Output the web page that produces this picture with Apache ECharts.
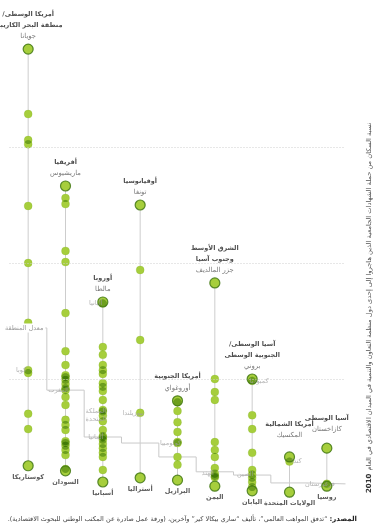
<!DOCTYPE html>
<html dir="rtl" lang="ar">
<head>
<meta charset="utf-8">
<script src="https://cdn.jsdelivr.net/npm/echarts@6/dist/echarts.min.js"></script>
<style>html,body{margin:0;padding:0;background:#fff}#c{width:379px;height:529px}</style>
</head>
<body>
<div id="c"></div>
<script>
// ---------- data ----------
const regionHeaders = [
  ["أمريكا الوسطى/", "منطقة البحر الكاريبي"],
  ["أفريقيا"],
  ["أوروبا"],
  ["أوقيانوسيا"],
  ["أمريكا الجنوبية"],
  ["الشرق الأوسط", "وجنوب آسيا"],
  ["آسيا الوسطى/", "الجنوبية الوسطى"],
  ["أمريكا الشمالية"],
  ["آسيا الوسطى"]
];
const topCountries = ["جويانا", "ماريشيوس", "مالطا", "تونغا", "أوروغواي", "جزر المالديف", "بروني", "المكسيك", "كازاخستان"];
const bottomCountries = ["كوستاريكا", "السودان", "أسبانيا", "أستراليا", "البرازيل", "اليمن", "اليابان", "الولايات المتحدة", "روسيا"];

// share (%) of tertiary-educated emigrants, each region sorted high -> low (first = top country, last = bottom country)
const caribbean   = [96.1, 82.1, 76.5, 75.6, 62.3, 50.0, 37.1, 26.3, 17.5, 14.2, 6.3];
const africa      = [66.6, 64.0, 62.7, 52.6, 50.2, 39.2, 31.0, 28.0, 25.8, 25.4, 24.8, 23.9, 23.0, 21.1, 19.4, 16.2, 15.1, 14.0, 11.6, 11.2, 10.6, 9.7, 8.6, 5.6, 5.2];
const europe      = [41.6, 31.9, 30.2, 28.0, 26.9, 26.1, 24.1, 23.3, 22.4, 20.5, 18.3, 18.0, 15.9, 14.0, 12.7, 11.9, 11.0, 10.1, 9.1, 8.2, 5.4, 2.8];
const oceania     = [62.5, 48.5, 33.4, 3.7];
const southAmerica= [20.3, 20.0, 18.1, 15.7, 13.6, 11.4, 8.2, 6.5, 3.2];
const middleEastSouthAsia = [45.7, 25.0, 22.2, 20.5, 11.4, 9.7, 8.2, 5.8, 4.1, 3.8, 1.9];
const eastAsia    = [25.0, 17.2, 14.2, 9.1, 5.4, 3.7, 2.8, 1.7, 0.9];
const northAmerica= [8.2, 0.6];
const centralAsia = [10.1, 1.9];
const regionValues = [caribbean, africa, europe, oceania, southAmerica, middleEastSouthAsia, eastAsia, northAmerica, centralAsia];

// individually labelled countries (grey side labels)
const notedNames  = ["كوبا", "المغرب", "ألبانيا", "المملكة\nالمتحدة", "ألمانيا", "نيوزيلندا", "كولومبيا", "الهند", "كمبوديا", "الصين", "كندا", "قرغيزستان"];
const notedRegion = [0, 1, 2, 2, 2, 3, 4, 5, 6, 6, 7, 8];
const notedValues = [26.9, 22.6, 41.3, 17.1, 12.4, 17.7, 11.2, 4.6, 24.6, 4.4, 7.2, 2.4];
const notedSide   = ["left", "left", "left", "left", "left", "left", "left", "left", "right", "left", "right", "left"];

const regionAverage = [36.0, 22.6, 12.5, 11.2, 8.2, 5.0, 4.3, 2.6, 2.4];
const averageLabel = "معدل المنطقة";
const gridValues = [25, 50, 75];

const subtitle = "نسبة السكان من حملة الشهادات الجامعية الذين هاجروا إلى إحدى دول منظمة التعاون والتنمية في الميدان الاقتصادي في العام";
const subtitleYear = "2010";
const sourceLead = "المصدر:";
const sourceText = "\u201Cتدفق المواهب العالمي\u201D، تأليف \u201Cساري بيكالا كير\u201D وآخرين، (ورقة عمل صادرة عن المكتب الوطني للبحوث الاقتصادية).";

// ---------- build ----------
const FONT = "'DejaVu Sans', sans-serif";
const dotColor = '#a6ce3c';
const lensColor = 'rgba(52,112,0,0.5)';
const R_DOT = 4, R_END = 5;
const mctx = document.createElement('canvas').getContext('2d');
function tw(t, font) { mctx.font = font; return mctx.measureText(t).width; }

// all dots: [column, value, radius]
const dots = [];
regionValues.forEach((arr, i) => {
  arr.forEach((v, k) => dots.push([i, v, (k === 0 || k === arr.length - 1) ? R_END : R_DOT]));
});
notedValues.forEach((v, k) => dots.push([notedRegion[k], v, R_DOT]));

// overlapping pairs (same column, close values) -> darker lens where discs overlap
const lenses = [];
for (let a = 0; a < dots.length; a++) {
  for (let b = a + 1; b < dots.length; b++) {
    if (dots[a][0] === dots[b][0] && Math.abs(dots[a][1] - dots[b][1]) < 2.5) {
      lenses.push([dots[a][0], dots[a][1], dots[b][1], dots[a][2], dots[b][2]]);
    }
  }
}

const stems = regionValues.map((arr, i) => {
  const all = arr.concat(notedValues.filter((v, k) => notedRegion[k] === i));
  return [i, Math.max(...all), Math.min(...all)];
});

const stepData = [];
regionAverage.forEach((v, i) => { stepData.push([i - 0.5, v]); stepData.push([i + 0.5, v]); });

const topDistance = [1, 1, 1, 1, 1, 1, 1, 10, 7];
const ends = [];
regionValues.forEach((arr, i) => {
  const headLines = regionHeaders[i].map(t => '{r|' + t + '}').join('\n');
  ends.push({
    value: [i, arr[0]],
    label: { show: true, position: 'top', distance: topDistance[i],
      formatter: headLines + '\n{c|' + topCountries[i] + '}' }
  });
  ends.push({
    value: [i, arr[arr.length - 1]],
    label: { show: true, position: 'bottom', distance: 1,
      formatter: '{b|' + bottomCountries[i] + '}' }
  });
});

const noted = notedValues.map((v, k) => ({
  value: [notedRegion[k], v],
  label: { show: true, position: notedSide[k], distance: 3, formatter: notedNames[k] }
}));

function lensShape(cx, y1, y2, r1, r2) {
  // y1 above y2 (pixels), returns polygon points of intersection of the two discs
  let d = y2 - y1;
  if (d < 0) { d = -d; [y1, y2] = [y2, y1]; [r1, r2] = [r2, r1]; }
  if (d >= r1 + r2) return null;
  const pts = [];
  const N = 10;
  if (d <= Math.abs(r1 - r2)) {
    const r = Math.min(r1, r2), cy = r1 < r2 ? y1 : y2;
    for (let k = 0; k < 2 * N; k++) { const t = Math.PI * k / N; pts.push([cx + r * Math.cos(t), cy + r * Math.sin(t)]); }
    return pts;
  }
  const a = (d * d + r1 * r1 - r2 * r2) / (2 * d);
  const p1 = Math.acos(Math.max(-1, Math.min(1, a / r1)));
  const p2 = Math.acos(Math.max(-1, Math.min(1, (d - a) / r2)));
  for (let k = 0; k <= N; k++) { const f = -p1 + 2 * p1 * k / N; pts.push([cx + r1 * Math.sin(f), y1 + r1 * Math.cos(f)]); }
  for (let k = 0; k <= N; k++) { const f = p2 - 2 * p2 * k / N; pts.push([cx + r2 * Math.sin(f), y2 - r2 * Math.cos(f)]); }
  return pts;
}

const chart = echarts.init(document.getElementById('c'), null, { renderer: 'canvas' });

const srcFontB = 'bold 7px ' + FONT;
const leadW = tw(sourceLead, srcFontB);
const srcSize = 7 * (357 - 8 - leadW - 2) / tw(sourceText, '7px ' + FONT);
const srcFont = srcSize.toFixed(2) + 'px ' + FONT;
const yearFont = 'bold 7px ' + FONT;
const yearW = tw(subtitleYear, yearFont);
const subSize = 7 * (493 - yearW - 3 - 122) / tw(subtitle, '7px ' + FONT);
const subFont = subSize.toFixed(2) + 'px ' + FONT;

chart.setOption({
  animation: false,
  backgroundColor: '#ffffff',
  grid: { left: 9.5, right: 33.5, top: 31, bottom: 34 },
  xAxis: { type: 'value', min: -0.5, max: 8.5, show: false },
  yAxis: { type: 'value', min: 0, max: 100, show: false },
  series: [
    {
      type: 'line', data: stepData, symbol: 'none', silent: true, z: 1,
      lineStyle: { color: '#c9c9c9', width: 1 },
      markLine: {
        silent: true, symbol: 'none', label: { show: false },
        lineStyle: { color: '#cfcfcf', width: 1, type: [1, 2] },
        data: gridValues.map(v => ({ yAxis: v }))
      },
      markPoint: {
        silent: true, symbol: 'rect', symbolSize: 0,
        data: [{ coord: [0, regionAverage[0]] }],
        label: { show: true, position: 'inside', offset: [-4, 0], formatter: averageLabel,
          color: '#9a9a9a', fontSize: 6.5, fontFamily: FONT, backgroundColor: '#fff', padding: [1, 2] }
      }
    },
    {
      type: 'custom', data: stems, silent: true, z: 2,
      encode: { x: 0, y: [1, 2] },
      renderItem: (params, api) => {
        const a = api.coord([api.value(0), api.value(1)]);
        const b = api.coord([api.value(0), api.value(2)]);
        return { type: 'line', shape: { x1: a[0], y1: a[1], x2: b[0], y2: b[1] },
          style: { stroke: '#cdcdcd', lineWidth: 1 } };
      }
    },
    {
      type: 'custom', data: dots, silent: true, z: 3,
      encode: { x: 0, y: 1 },
      renderItem: (params, api) => {
        const p = api.coord([api.value(0), api.value(1)]);
        return { type: 'circle', shape: { cx: p[0], cy: p[1], r: api.value(2) },
          style: { fill: dotColor, stroke: 'rgba(120,170,40,0.35)', lineWidth: 0.6 } };
      }
    },
    {
      type: 'custom', data: lenses, silent: true, z: 4,
      encode: { x: 0, y: [1, 2] },
      renderItem: (params, api) => {
        const a = api.coord([api.value(0), api.value(1)]);
        const b = api.coord([api.value(0), api.value(2)]);
        const pts = lensShape(a[0], a[1], b[1], api.value(3), api.value(4));
        if (!pts) return null;
        return { type: 'polygon', shape: { points: pts }, style: { fill: lensColor } };
      }
    },
    {
      type: 'scatter', data: noted, symbolSize: 8, z: 5, silent: true,
      itemStyle: { color: 'rgba(0,0,0,0)' },
      label: { color: '#a0a0a0', fontSize: 6.5, fontFamily: FONT, lineHeight: 8, align: 'center' },
      labelLayout: { hideOverlap: false }
    },
    {
      type: 'scatter', data: ends, symbolSize: 10, z: 6, silent: true,
      itemStyle: { color: 'rgba(0,0,0,0)', borderColor: '#3f7414', borderWidth: 1.2 },
      label: {
        fontFamily: FONT, align: 'center',
        rich: {
          r: { fontWeight: 'bold', fontSize: 6.5, lineHeight: 11, color: '#222', fontFamily: FONT },
          c: { fontSize: 6.8, lineHeight: 12, color: '#555', fontFamily: FONT },
          b: { fontWeight: 'bold', fontSize: 6.5, lineHeight: 9, color: '#333', fontFamily: FONT }
        }
      }
    }
  ],
  graphic: [
    { type: 'text', x: 357, y: 519, silent: true,
      style: { text: sourceLead, font: srcFontB, fill: '#222', align: 'right', verticalAlign: 'middle' } },
    { type: 'text', x: 357 - leadW - 2, y: 519, silent: true,
      style: { text: sourceText, font: srcFont, fill: '#444', align: 'right', verticalAlign: 'middle' } },
    { type: 'text', x: 369, y: 493, rotation: Math.PI / 2, silent: true,
      style: { text: subtitleYear, font: yearFont, fill: '#333', align: 'left', verticalAlign: 'middle' } },
    { type: 'text', x: 369, y: 493 - yearW - 3, rotation: Math.PI / 2, silent: true,
      style: { text: subtitle, font: subFont, fill: '#555', align: 'left', verticalAlign: 'middle' } }
  ]
});
</script>
</body>
</html>
